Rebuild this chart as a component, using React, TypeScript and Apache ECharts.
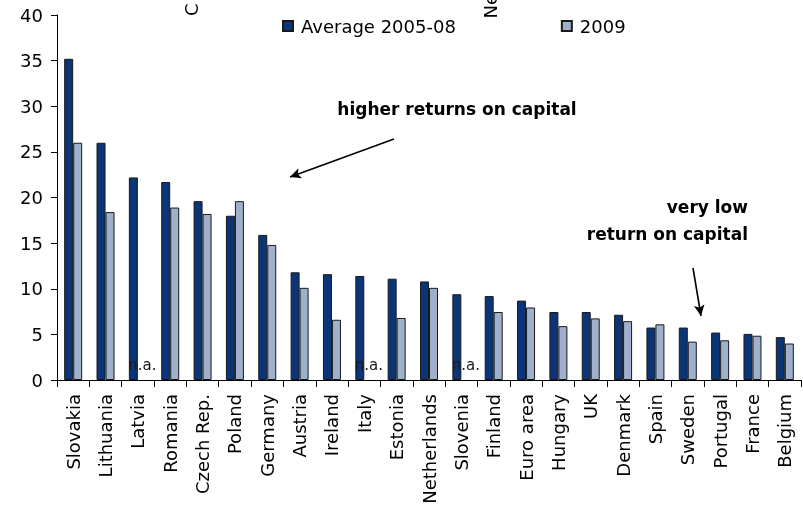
import React, { useEffect, useRef } from "react";
import * as echarts from "echarts";

const categories = [
  "Slovakia", "Lithuania", "Latvia", "Romania", "Czech Rep.", "Poland", "Germany",
  "Austria", "Ireland", "Italy", "Estonia", "Netherlands", "Slovenia", "Finland",
  "Euro area", "Hungary", "UK", "Denmark", "Spain", "Sweden", "Portugal", "France", "Belgium",
];

const avg2005_08 = [
  35.2, 26.0, 22.2, 21.7, 19.6, 18.0, 15.9, 11.8, 11.6, 11.4, 11.1, 10.8, 9.4, 9.2,
  8.7, 7.45, 7.45, 7.15, 5.75, 5.75, 5.2, 5.05, 4.7,
];

const y2009: (number | null)[] = [
  26.0, 18.4, null, 18.9, 18.2, 19.6, 14.8, 10.1, 6.6, null, 6.8, 10.1, null, 7.45,
  7.95, 5.9, 6.75, 6.45, 6.1, 4.2, 4.35, 4.85, 4.0,
];

const yTicks = { min: 0, max: 40, interval: 5 };

const seriesNames = ["Average 2005-08", "2009"];

const FONT = "DejaVu Sans";

export default function App() {
  const ref = useRef<HTMLDivElement>(null);

  useEffect(() => {
    if (!ref.current) return;
    const chart = echarts.init(ref.current, null, { renderer: "svg" });

    const data2009 = y2009.map((v) =>
      v === null
        ? {
            value: 0,
            itemStyle: { color: "transparent", borderColor: "transparent", borderWidth: 0 },
            label: {
              show: true,
              position: "top",
              distance: 8,
              formatter: "n.a.",
              fontSize: 15,
              color: "#1a1a1a",
              fontFamily: FONT,
            },
          }
        : v
    );

    chart.setOption({
      animation: false,
      textStyle: { fontFamily: FONT },
      grid: { left: 57, right: 2, top: 15, bottom: 128, containLabel: false },
      legend: {
        data: seriesNames,
        left: 277,
        top: 12,
        itemWidth: 10,
        itemHeight: 10,
        itemGap: 105,
        icon: "rect",
        textStyle: { fontSize: 18, color: "#000", fontFamily: FONT, padding: [0, 0, 0, 3] },
      },
      xAxis: {
        type: "category",
        data: categories,
        axisLine: { lineStyle: { color: "#000", width: 1 } },
        axisTick: { show: true, length: 7, lineStyle: { color: "#000" } },
        axisLabel: {
          rotate: 90,
          fontSize: 18,
          color: "#000",
          margin: 14,
          interval: 0,
          fontFamily: FONT,
        },
      },
      yAxis: {
        type: "value",
        min: yTicks.min,
        max: yTicks.max,
        interval: yTicks.interval,
        axisLine: { show: true, lineStyle: { color: "#000", width: 1 } },
        axisTick: { show: true, length: 6, lineStyle: { color: "#000" } },
        splitLine: { show: false },
        axisLabel: { fontSize: 18, color: "#000", margin: 14, fontFamily: FONT },
      },
      series: [
        {
          name: seriesNames[0],
          type: "bar",
          data: avg2005_08,
          barWidth: 9,
          barGap: "0%",
          itemStyle: { color: "#0B3577", borderColor: "#1a1a1a", borderWidth: 1 },
          markLine: {
            silent: true,
            symbol: ["none", "arrow"],
            symbolSize: [8, 11],
            label: { show: false },
            lineStyle: { color: "#000", width: 1.6, type: "solid" },
            data: [
              [{ x: 394, y: 139 }, { x: 290, y: 177 }],
              [{ x: 693, y: 268 }, { x: 701, y: 316 }],
            ],
          },
        },
        {
          name: seriesNames[1],
          type: "bar",
          data: data2009,
          barWidth: 9,
          barGap: "0%",
          itemStyle: { color: "#9EB0CB", borderColor: "#1a1a1a", borderWidth: 1 },
        },
      ],
      graphic: [
        {
          type: "text",
          x: 457,
          y: 109,
          style: {
            text: "higher returns on capital",
            fontSize: 17,
            fontWeight: "bold",
            fontFamily: FONT,
            fill: "#000",
            textAlign: "center",
            textVerticalAlign: "middle",
          },
        },
        {
          type: "text",
          x: 748,
          y: 207,
          style: {
            text: "very low",
            fontSize: 17,
            fontWeight: "bold",
            fontFamily: FONT,
            fill: "#000",
            textAlign: "right",
            textVerticalAlign: "middle",
          },
        },
        {
          type: "text",
          x: 748,
          y: 234,
          style: {
            text: "return on capital",
            fontSize: 17,
            fontWeight: "bold",
            fontFamily: FONT,
            fill: "#000",
            textAlign: "right",
            textVerticalAlign: "middle",
          },
        },
        {
          type: "text",
          x: 200,
          y: 16,
          rotation: Math.PI / 2,
          style: {
            text: "C",
            fontSize: 18,
            fontFamily: FONT,
            fill: "#000",
            textAlign: "left",
            textVerticalAlign: "bottom",
          },
        },
        {
          type: "text",
          x: 499,
          y: 18.5,
          rotation: Math.PI / 2,
          style: {
            text: "Ne",
            fontSize: 18,
            fontFamily: FONT,
            fill: "#000",
            textAlign: "left",
            textVerticalAlign: "bottom",
          },
        },
      ],
    });

    return () => chart.dispose();
  }, []);

  return (
    <div
      ref={ref}
      style={{ position: "fixed", left: 0, top: 0, width: 803, height: 508 }}
    />
  );
}
